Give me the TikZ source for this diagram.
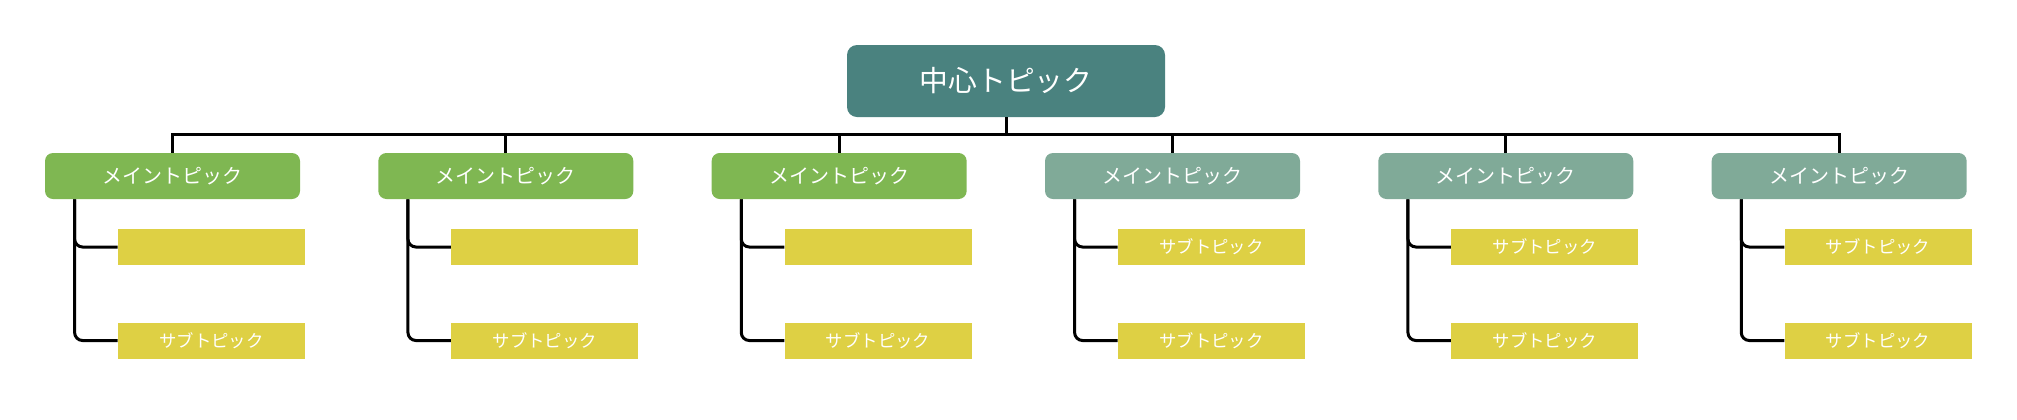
\documentclass[tikz,border=0pt]{standalone}
\usepackage{fontspec}
\setmainfont{Noto Sans CJK JP}
\usetikzlibrary{calc}
\definecolor{mmteal}{HTML}{4A827F}
\definecolor{mmgreen}{HTML}{7FB752}
\definecolor{mmsage}{HTML}{80AA98}
\definecolor{mmyellow}{HTML}{DED044}
\tikzset{
  root/.style   = {rectangle, rounded corners=5pt, fill=mmteal, text=white,
                   minimum width=159pt, minimum height=36pt, inner sep=0pt,
                   font=\fontsize{14.4}{16}\selectfont},
  main/.style   = {rectangle, rounded corners=4pt, text=white,
                   minimum width=127.5pt, minimum height=23pt, inner sep=0pt,
                   font=\fontsize{10}{12}\selectfont},
  sub/.style    = {rectangle, fill=mmyellow, text=white,
                   minimum width=93.5pt, minimum height=18pt, inner sep=0pt,
                   font=\fontsize{8.7}{10}\selectfont},
  link/.style   = {draw=black, line width=1.5pt},
  branch/.style = {link, rounded corners=4pt},
}
\begin{document}
\begin{tikzpicture}[x=0.5pt,y=-0.5pt]
  \useasboundingbox (0,0) rectangle (2017,419);
  \node[root] (ctr) at (1006,81) {中心トピック};
  \coordinate (bus) at (1006,134);
  \foreach \i/\col/\top in {1/mmgreen/,2/mmgreen/,3/mmgreen/,
      4/mmsage/サブトピック,5/mmsage/サブトピック,6/mmsage/サブトピック}{
    \pgfmathsetmacro{\x}{172.5+(\i-1)*333.33}
    \node[main, fill=\col] (m\i) at (\x,176) {メイントピック};
    \node[sub] (sa\i) at (\x+39,247) {\top};
    \node[sub] (sb\i) at (\x+39,340.5) {サブトピック};
    \draw[link] (ctr.south) -- (bus) -| (m\i.north);
    % branches to the sub topics
    \draw[branch] ([xshift=15pt]m\i.south west) |- (sa\i.west);
    \draw[branch] ([xshift=15pt]m\i.south west) |- (sb\i.west);
  }
\end{tikzpicture}
\end{document}
